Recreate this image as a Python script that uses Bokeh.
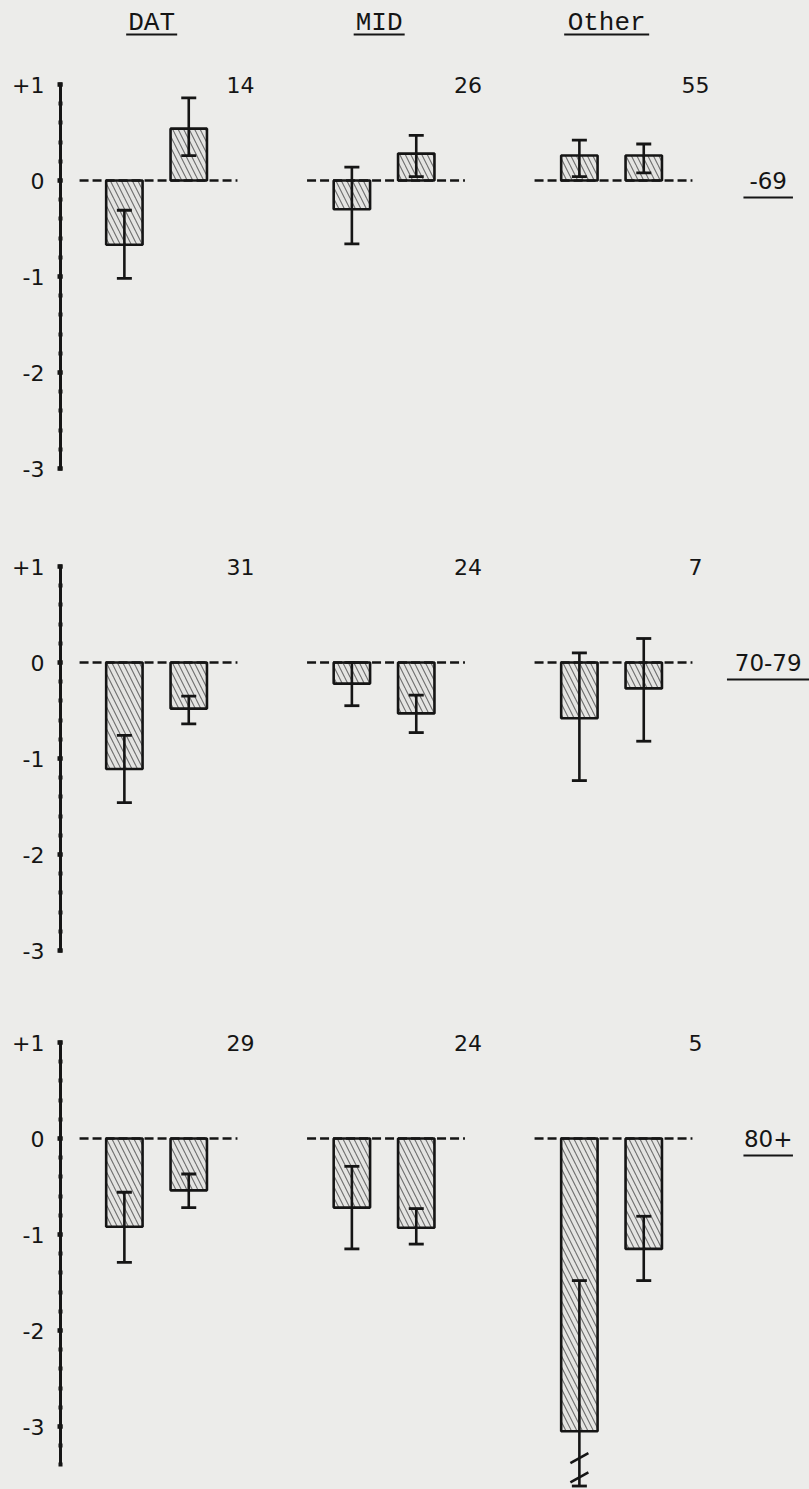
import numpy as np
from bokeh.plotting import figure
from bokeh.models import Range1d, LinearAxis, FixedTicker, ColumnDataSource, Whisker, TeeHead
from bokeh.layouts import column
from bokeh.embed import file_html
from bokeh.resources import INLINE
from bokeh.core.properties import value

# ---------------- data ----------------
groups = ["DAT", "MID", "Other"]
age_bands = ["-69", "70-79", "80+"]
y_tick_labels = {1: "+1", 0: "0", -1: "-1", -2: "-2", -3: "-3"}

# bar order: DAT-a, DAT-b, MID-a, MID-b, Other-a, Other-b
vals_69 = [-0.67, 0.54, -0.30, 0.28, 0.26, 0.26]
lo_69 = [-1.02, 0.26, -0.66, 0.04, 0.04, 0.08]
hi_69 = [-0.31, 0.86, 0.14, 0.47, 0.42, 0.38]
counts_69 = [14, 26, 55]

vals_7079 = [-1.11, -0.48, -0.22, -0.53, -0.58, -0.27]
lo_7079 = [-1.46, -0.64, -0.45, -0.73, -1.23, -0.82]
hi_7079 = [-0.76, -0.35, 0.00, -0.34, 0.10, 0.25]
counts_7079 = [31, 24, 7]

vals_80 = [-0.92, -0.54, -0.72, -0.93, -3.05, -1.15]
lo_80 = [-1.29, -0.72, -1.15, -1.10, -4.62, -1.48]
hi_80 = [-0.56, -0.37, -0.29, -0.73, -1.48, -0.81]
counts_80 = [29, 24, 5]

# ---------------- style / layout ----------------
W = 809
PX_X = 227.5          # px per group unit
G0_PX = 158           # pixel of first group centre
LEFT = 60             # axis position
PX_Y = 96             # px per y unit
X0 = (LEFT - G0_PX) / PX_X
X1 = (W - G0_PX) / PX_X
OFF_A, OFF_B = -0.150, 0.133
BAR_W = 0.16
HALF_ZERO = 0.347
BG = "#ececea"
INK = "#151515"
NUM_FONT = "DejaVu Sans"
TITLE_FONT = "Liberation Mono"


def px_x(n):
    return n / PX_X


def px_y(n):
    return n / PX_Y


def make_panel(vals, lo, hi, counts, band, height, zero_px, axis_bottom,
               titles=False, floor=None):
    top = zero_px / PX_Y
    bottom = -(height - zero_px) / PX_Y
    p = figure(width=W, height=height, x_range=Range1d(X0, X1),
               y_range=Range1d(bottom, top), output_backend="svg",
               toolbar_location=None, x_axis_type=None, y_axis_type=None,
               min_border_left=LEFT, min_border_right=0, min_border_top=0,
               min_border_bottom=0)
    p.background_fill_color = BG
    p.border_fill_color = BG
    p.outline_line_color = None
    p.xgrid.visible = False
    p.ygrid.visible = False

    xs = [g + off for g in range(len(groups)) for off in (OFF_A, OFF_B)]

    # bars
    p.vbar(x=xs, top=vals, bottom=0, width=BAR_W, fill_color="#e4e4e2",
           line_color=INK, line_width=2.6, hatch_pattern="\\",
           hatch_color="#3a3a3a", hatch_scale=11, hatch_weight=1.1, hatch_alpha=0.7)

    # dashed zero baseline per group
    gx = list(range(len(groups)))
    p.segment(x0=[g - HALF_ZERO for g in gx], x1=[g + HALF_ZERO for g in gx],
              y0=[0] * 3, y1=[0] * 3, line_color=INK, line_width=2.4,
              line_dash="9 4")

    # error bars
    low_drawn = [max(l, floor) if floor is not None else l for l in lo]
    src = ColumnDataSource(dict(base=xs, upper=hi, lower=low_drawn))
    wk = Whisker(base="base", upper="upper", lower="lower", source=src,
                 line_color=INK, line_width=2.6, level="overlay",
                 upper_head=TeeHead(size=15, line_width=2.8, line_color=INK),
                 lower_head=TeeHead(size=15, line_width=2.8, line_color=INK))
    p.add_layout(wk)

    # break marks for error bars running off the chart
    if floor is not None:
        for x, l in zip(xs, lo):
            if l < floor:
                for yb in (floor + 0.29, floor + 0.09):
                    p.segment(x0=[x - px_x(9)], x1=[x + px_x(9)],
                              y0=[yb - px_y(5)], y1=[yb + px_y(5)],
                              line_color=INK, line_width=2.6)

    # sample counts
    p.text(x=[g + 0.36 for g in gx], y=[1] * 3, text=[str(c) for c in counts],
           text_align="center", text_baseline="middle",
           text_font=value(NUM_FONT), text_font_size="22px", text_color=INK)

    # age band label, underlined
    ax_ = 2.68
    p.text(x=[ax_], y=[0], text=[band], text_align="center",
           text_baseline="middle", text_font=value(NUM_FONT),
           text_font_size="23px", text_color=INK)
    hw = px_x(len(band) * 16.5 / 2)
    p.segment(x0=[ax_ - hw], x1=[ax_ + hw], y0=[-px_y(17)], y1=[-px_y(17)],
              line_color=INK, line_width=2)

    # group titles, underlined
    if titles:
        ty = top - px_y(22)
        tx = [g - 0.03 for g in gx]
        p.text(x=tx, y=[ty] * 3, text=groups, text_align="center",
               text_baseline="middle", text_font=value(TITLE_FONT),
               text_font_size="26px", text_color=INK)
        hws = [px_x(len(t) * 17 / 2) for t in groups]
        p.segment(x0=[x - h for x, h in zip(tx, hws)],
                  x1=[x + h for x, h in zip(tx, hws)],
                  y0=[ty - px_y(12)] * 3, y1=[ty - px_y(12)] * 3,
                  line_color=INK, line_width=2)

    # y axis with dotted minor ticks
    minor = [round(v, 2) for v in np.arange(axis_bottom, 1.001, 0.2)]
    yaxis = LinearAxis(bounds=(axis_bottom, 1),
                       ticker=FixedTicker(ticks=[-3, -2, -1, 0, 1], minor_ticks=minor),
                       major_label_overrides=y_tick_labels)
    yaxis.axis_line_width = 3
    yaxis.axis_line_color = INK
    yaxis.major_tick_in = 2
    yaxis.major_tick_out = 3
    yaxis.major_tick_line_width = 4.5
    yaxis.major_tick_line_color = INK
    yaxis.minor_tick_in = 2
    yaxis.minor_tick_out = 2
    yaxis.minor_tick_line_width = 4
    yaxis.minor_tick_line_color = INK
    yaxis.major_label_standoff = 13
    yaxis.major_label_text_font = NUM_FONT
    yaxis.major_label_text_font_size = "22px"
    yaxis.major_label_text_color = INK
    p.add_layout(yaxis, "left")
    return p


p1 = make_panel(vals_69, lo_69, hi_69, counts_69, age_bands[0], 490, 180, -3.0,
                titles=True)
p2 = make_panel(vals_7079, lo_7079, hi_7079, counts_7079, age_bands[1], 476, 172, -3.0)
p3 = make_panel(vals_80, lo_80, hi_80, counts_80, age_bands[2], 523, 172, -3.4,
                floor=-3.62)

layout = column(p1, p2, p3, spacing=0)
layout.styles = {"background-color": BG}

open("out.html", "w").write(file_html(layout, INLINE))
